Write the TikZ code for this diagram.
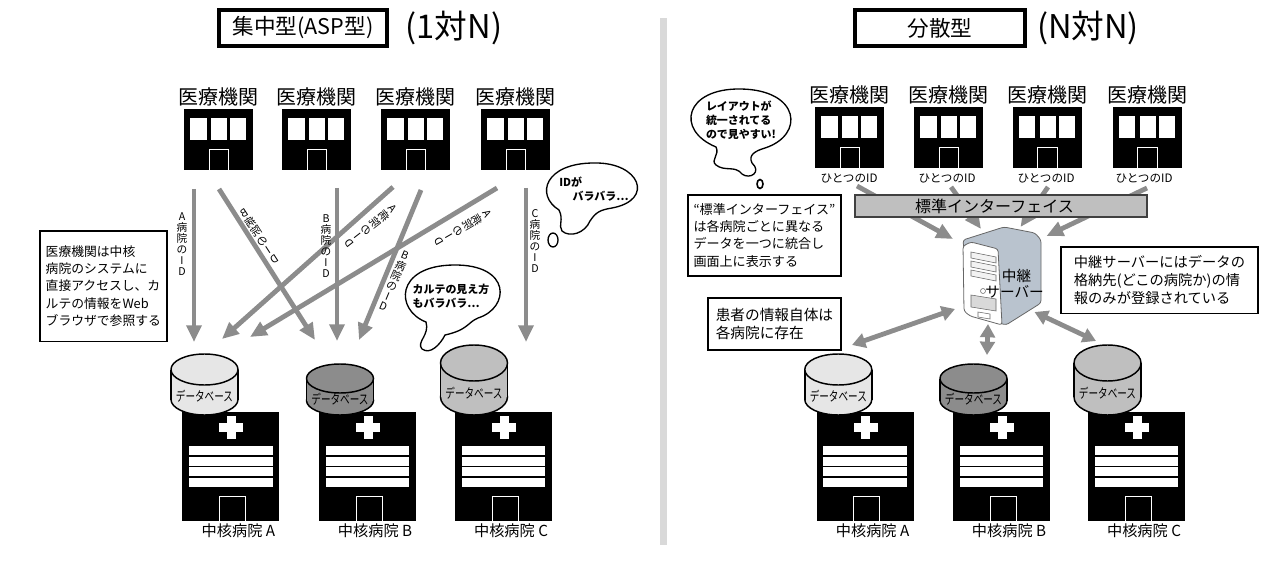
\documentclass[tikz,border=0pt]{standalone}
\usepackage{fontspec}
\setmainfont{Noto Sans CJK JP}
\usetikzlibrary{arrows.meta}

\definecolor{arrowgray}{HTML}{8C8C8C}
\definecolor{dbLight}{HTML}{E6E6E6}
\definecolor{dbDark}{HTML}{8C8C8C}
\definecolor{dbMid}{HTML}{BFBFBF}
\definecolor{serverSide}{HTML}{B9C3CE}

\tikzset{
  titlebox/.style={draw,line width=3pt,minimum width=#1*0.75pt,minimum height=27pt,inner sep=0pt},
  idarrow/.style={draw=arrowgray,line width=3.6pt,-{Triangle[length=12.5pt,width=11pt]}},
  bothway/.style={draw=arrowgray,line width=3.6pt,{Triangle[length=10pt,width=11pt]}-{Triangle[length=10pt,width=11pt]}},
  notebox/.style={draw,line width=1.2pt,align=left,anchor=north west,inner sep=0pt},
  idlabel/.style={align=center,font=\fontsize{8pt}{8.3pt}\selectfont,inner sep=0pt,
    execute at begin node={\lineskiplimit=-10pt}},
  flipped/.style={rotate=#1,xscale=-1,transform shape},
  bubbletext/.style={align=left,font=\bfseries\fontsize{8.2pt}{10.4pt}\selectfont,inner sep=0pt,
    execute at begin node={\lineskiplimit=-10pt}},
  bubble/.style={draw,fill=white,line width=1pt}
}

% building with a name above it
\newcommand{\clinic}[4]{%
  \begin{scope}[shift={(#2,#3)}]
    \fill (0,0) rectangle (69,61);
    \fill[white] (6,9) rectangle (22.5,31);
    \fill[white] (27,9) rectangle (43,31);
    \fill[white] (46,9) rectangle (62,31);
    \draw[white,line width=0.7pt] (25,61) -- (25,40) -- (44.5,40) -- (44.5,61);
    \node[font=\fontsize{#4pt}{#4pt}\selectfont,inner sep=0pt] (#1) at (34.5,-12.5) {医療機関};
  \end{scope}}

% hospital with banner, cross and label below it
\newcommand{\hospital}[3]{%
  \begin{scope}[shift={(#2,412)}]
    \fill (0,0) rectangle (97,109);
    \fill[white] (44.5,4) rectangle (53.5,27);
    \fill[white] (37,11) rectangle (61,20);
    \fill[white] (6.7,34) rectangle (90.3,75);
    \draw[line width=0.8pt] (6.7,44) -- (90.3,44) (6.7,54.5) -- (90.3,54.5) (6.7,65) -- (90.3,65);
    \draw[white,line width=0.7pt] (37,109) -- (37,84) -- (63,84) -- (63,109);
    \node[font=\fontsize{11.4pt}{11.4pt}\selectfont,inner sep=0pt] (#1) at (56,119) {#3};
  \end{scope}}

% database drum: centre x, top y, radius y, fill colour, label y
\newcommand{\database}[6]{%
  \begin{scope}[shift={(#2,#3)}]
    \draw[line width=1.1pt,fill=#5] (0,415-#3-#4) ellipse [x radius=33.5,y radius=#4];
    \fill[#5] (-33.5,#4) rectangle (33.5,415-#3-#4);
    \draw[line width=1.1pt] (-33.5,#4) -- (-33.5,415-#3-#4) (33.5,#4) -- (33.5,415-#3-#4);
    \draw[line width=1.1pt,fill=#5] (0,#4) ellipse [x radius=33.5,y radius=#4];
    \node[xscale=0.72,transform shape,font=\fontsize{10pt}{10pt}\selectfont,inner sep=0pt] (#1) at (0,#6) {データベース};
  \end{scope}}

\begin{document}
\begin{tikzpicture}[x=0.75pt,y=-0.75pt]
  \useasboundingbox (0,0) rectangle (1284,570);

  % Titles
  \node[titlebox=168,font=\fontsize{16.2pt}{16.2pt}\selectfont] (titleA) at (303,28) {集中型(ASP型)};
  \node[font=\fontsize{24.5pt}{24.5pt}\selectfont,inner sep=0pt] (ratioA) at (454,28) {(1対N)};
  \node[titlebox=170,font=\fontsize{16.2pt}{16.2pt}\selectfont] (titleB) at (940,28) {分散型};
  \node[font=\fontsize{24.5pt}{24.5pt}\selectfont,inner sep=0pt] (ratioB) at (1088,28) {(N対N)};

  % Divider
  \fill[black!15] (660,18) rectangle (667,545);

  % Left: clinics
  \clinic{clinicA}{184}{109}{15}
  \clinic{clinicB}{282}{109}{15}
  \clinic{clinicC}{381}{109}{15}
  \clinic{clinicD}{481}{109}{15}

  % Left: ID arrows
  \coordinate (a1s) at (194,189); \coordinate (a1e) at (194,342);
  \coordinate (a2s) at (219,189); \coordinate (a2e) at (315,340);
  \coordinate (a3s) at (337,188); \coordinate (a3e) at (337,341);
  \coordinate (a4s) at (393,187); \coordinate (a4e) at (222,339);
  \coordinate (a5s) at (421,190); \coordinate (a5e) at (359,340);
  \coordinate (a6s) at (497,188); \coordinate (a6e) at (250,337);
  \coordinate (a7s) at (526,188); \coordinate (a7e) at (526,342);
  \draw[idarrow] (a1s) -- (a1e);
  \draw[idarrow] (a2s) -- (a2e);
  \draw[idarrow] (a3s) -- (a3e);
  \draw[idarrow] (a4s) -- (a4e);
  \draw[idarrow] (a5s) -- (a5e);
  \draw[idarrow] (a6s) -- (a6e);
  \draw[idarrow] (a7s) -- (a7e);

  % Left: ID labels
  \node[idlabel] (idA) at (182,244) {A\\病\\院\\の\\I\\D};
  \node[idlabel,flipped=33] (idB) at (259,236) {B\\病\\院\\の\\I\\D};
  \node[idlabel] (idC) at (326,246) {B\\病\\院\\の\\I\\D};
  \node[idlabel,flipped=-52] (idD) at (371,226) {A\\病\\院\\の\\I\\D};
  \node[idlabel,rotate=-23] (idE) at (394,281) {B\\病\\院\\の\\I\\D};
  \node[idlabel,flipped=-60] (idF) at (463,228) {A\\病\\院\\の\\I\\D};
  \node[idlabel] (idG) at (535,241) {C\\病\\院\\の\\I\\D};

  % Left: note
  \node[notebox,minimum width=95.25pt,minimum height=83pt,font=\fontsize{9.6pt}{13pt}\selectfont]
    (noteA) at (39,230) {医療機関は中核\\病院のシステムに\\直接アクセスし、カ\\ルテの情報をWeb\\ブラウザで参照する};

  % Left: bubbles
  \draw[bubble] (559,210) .. controls (535,195) and (545,163) .. (594,163)
    .. controls (640,162) and (655,200) .. (612,208)
    .. controls (600,210) and (596,212) .. (590,221)
    .. controls (585,233) and (570,238) .. (562,231)
    .. controls (558,225) and (564,220) .. (559,210) -- cycle;
  \draw[line width=1pt] (553,240) ellipse [x radius=5,y radius=7];
  \node[bubbletext] (bubbleA) at (594,189) {IDが\\\hspace*{10pt}バラバラ…};
  \draw[bubble] (426,322) .. controls (395,310) and (395,266) .. (453,265)
    .. controls (512,264) and (510,308) .. (478,318)
    .. controls (468,322) and (468,330) .. (445,335)
    .. controls (440,345) and (430,355) .. (422,349)
    .. controls (416,342) and (430,335) .. (426,322) -- cycle;
  \node[bubbletext] (bubbleB) at (451,296) {カルテの見え方\\もバラバラ…};

  % Left: databases and hospitals
  \hospital{hospA}{182.4}{中核病院 A}
  \hospital{hospB}{319}{中核病院 B}
  \hospital{hospC}{455}{中核病院 C}
  \database{dbA}{204.5}{354}{15.5}{dbLight}{42}
  \database{dbB}{340}{364}{14.5}{dbDark}{35}
  \database{dbC}{474}{345}{18}{dbMid}{48}

  % Right: clinics
  \clinic{clinicE}{815}{107}{15}
  \clinic{clinicF}{914}{107}{15}
  \clinic{clinicG}{1012.6}{107}{15}
  \clinic{clinicH}{1112.6}{107}{15}
  \node[font=\fontsize{8.7pt}{8.7pt}\selectfont,inner sep=0pt] (oneA) at (849,178) {ひとつのID};
  \node[font=\fontsize{8.7pt}{8.7pt}\selectfont,inner sep=0pt] (oneB) at (947,178) {ひとつのID};
  \node[font=\fontsize{8.7pt}{8.7pt}\selectfont,inner sep=0pt] (oneC) at (1046,178) {ひとつのID};
  \node[font=\fontsize{8.7pt}{8.7pt}\selectfont,inner sep=0pt] (oneD) at (1144,178) {ひとつのID};

  % Right: arrows into server
  \coordinate (s1s) at (857,186); \coordinate (s1e) at (953,239);
  \coordinate (s2s) at (951,187); \coordinate (s2e) at (981,229);
  \coordinate (s3s) at (1048,187); \coordinate (s3e) at (1020.5,227);
  \coordinate (s4s) at (1147,188); \coordinate (s4e) at (1046.5,236);
  \draw[idarrow] (s1s) -- (s1e);
  \draw[idarrow] (s2s) -- (s2e);
  \draw[idarrow] (s3s) -- (s3e);
  \draw[idarrow] (s4s) -- (s4e);

  % Right: interface bar
  \node[draw=black!75,fill=dbMid,line width=1.5pt,minimum width=219pt,minimum height=16pt,
        inner sep=0pt,font=\fontsize{12pt}{12pt}\selectfont] (iface) at (1000.5,206) {\hspace*{-9pt}標準インターフェイス};

  % Right: server
  \draw[line width=0.6pt,black!60,fill=serverSide,rounded corners=2pt] (1004,227) -- (1035,233) -- (1041,240)
    -- (1041,303) -- (1006,325) -- (970,314) -- (963,240) -- cycle;
  \draw[line width=0.6pt,black!60,fill=white,rounded corners=2pt] (963,246) -- (971,242) -- (998,249)
    -- (1002,325) -- (970,316) -- (964,311) -- cycle;
  \draw[black!60,fill=black!5] (971,252) -- (996,257) -- (996,263) -- (971,258) -- cycle;
  \draw[black!60,fill=black!5] (971,261) -- (996,266) -- (996,272) -- (971,267) -- cycle;
  \draw[black!60,fill=black!5] (971,270) -- (996,275) -- (996,281) -- (971,276) -- cycle;
  \draw[black!60,fill=black!15] (971,295) -- (996,299) -- (996,311) -- (971,307) -- cycle;
  \draw[black!60,fill=white] (978,312) -- (990,314) -- (990,319) -- (978,317) -- cycle;
  \draw[black!60] (983,291) circle [radius=2.5];
  \node[font=\fontsize{11pt}{11pt}\selectfont,inner sep=0pt] (serverA) at (1016.5,276) {中継};
  \node[font=\fontsize{11pt}{11pt}\selectfont,inner sep=0pt] (serverB) at (1014.6,292) {サーバー};

  % Right: notes
  \node[notebox,minimum width=115pt,minimum height=60.75pt,font=\fontsize{9.8pt}{13pt}\selectfont]
    (noteB) at (687,194) {“標準インターフェイス”\\は各病院ごとに異なる\\データを一つに統合し\\画面上に表示する};
  \node[notebox,minimum width=148pt,minimum height=50pt,font=\fontsize{10.7pt}{13.5pt}\selectfont]
    (noteC) at (1060,246) {中継サーバーにはデータの\\格納先(どこの病院か)の情\\報のみが登録されている};
  \node[notebox,minimum width=100pt,minimum height=39pt,font=\fontsize{11pt}{13.5pt}\selectfont]
    (noteD) at (707,297) {患者の情報自体は\\各病院に存在};

  % Right: bubble
  \draw[bubble] (716,147) .. controls (675,130) and (685,88) .. (741,89)
    .. controls (800,90) and (805,135) .. (765,148)
    .. controls (755,151) and (748,155) .. (752,163)
    .. controls (762,172) and (750,180) .. (742,174)
    .. controls (735,165) and (725,172) .. (716,165)
    .. controls (710,160) and (720,155) .. (716,147) -- cycle;
  \draw[line width=1.2pt] (760,184) ellipse [x radius=3,y radius=4.5];
  \node[bubbletext] (bubbleC) at (741,120) {レイアウトが\\統一されてる\\ので見やすい!};

  % Right: two-way arrows
  \coordinate (d1s) at (955,309); \coordinate (d1e) at (852,345);
  \coordinate (d2s) at (988,324); \coordinate (d2e) at (987,355);
  \coordinate (d3s) at (1034.5,312); \coordinate (d3e) at (1096,341);
  \draw[bothway] (d1s) -- (d1e);
  \draw[bothway] (d2s) -- (d2e);
  \draw[bothway] (d3s) -- (d3e);

  % Right: databases and hospitals
  \hospital{hospD}{816.6}{中核病院 A}
  \hospital{hospE}{953}{中核病院 B}
  \hospital{hospF}{1088}{中核病院 C}
  \database{dbD}{838.3}{354}{15.5}{dbLight}{42}
  \database{dbE}{973.5}{364}{14.5}{dbDark}{35}
  \database{dbF}{1107.5}{345}{18}{dbMid}{48}
\end{tikzpicture}
\end{document}
